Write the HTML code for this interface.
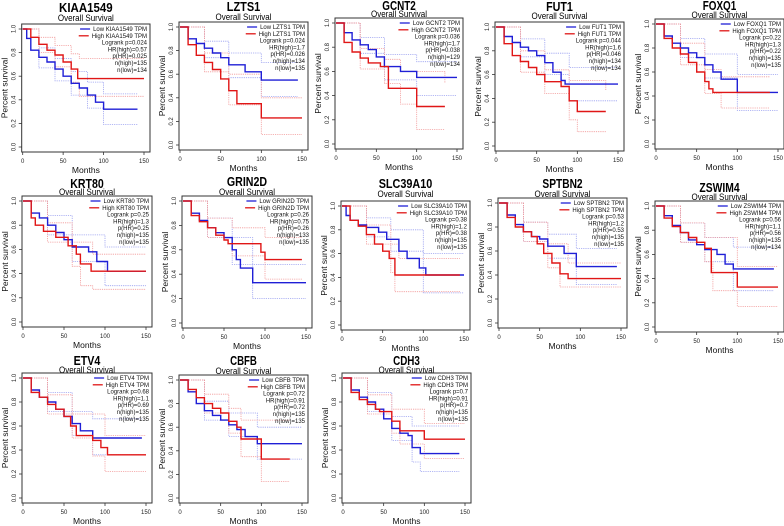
<!DOCTYPE html>
<html><head><meta charset="utf-8">
<style>
html,body{margin:0;padding:0;background:#fff;}
svg{display:block;font-family:"Liberation Sans",Arial,sans-serif;}
</style></head>
<body>
<svg id="fig" width="784" height="526" viewBox="0 0 784 526" xmlns="http://www.w3.org/2000/svg"></svg>
<script>
// ---- data: [month, survival] step points; last point = end of follow-up ----
const kiaaLow=[[5,.92],[10,.82],[20,.76],[30,.72],[40,.66],[50,.6],[60,.54],[70,.5],[80,.44],[90,.38],[100,.32],[142,.32]];
const kiaaHigh=[[10,.93],[20,.87],[30,.82],[40,.78],[50,.72],[60,.66],[68,.58],[150,.58]];
const kiaaLowUp=[[20,.84],[40,.75],[60,.64],[80,.55],[100,.45],[142,.45]];
const kiaaLowLo=[[20,.67],[40,.56],[60,.44],[80,.33],[100,.19],[142,.19]];
const kiaaHighUp=[[20,.93],[40,.86],[60,.79],[70,.75],[150,.75]];
const kiaaHighLo=[[20,.8],[40,.68],[60,.55],[70,.43],[150,.43]];

const lztsLow=[[10,.9],[20,.86],[30,.82],[40,.78],[50,.74],[60,.68],[80,.62],[100,.55],[145,.55]];
const lztsHigh=[[10,.85],[20,.76],[30,.7],[40,.64],[50,.56],[60,.46],[70,.35],[100,.23],[150,.23]];
const lztsLowUp=[[30,.88],[60,.78],[100,.7],[145,.7]];
const lztsLowLo=[[30,.74],[60,.57],[100,.41],[145,.41]];
const lztsHighUp=[[30,.78],[60,.6],[100,.4],[150,.4]];
const lztsHighLo=[[30,.62],[60,.34],[100,.09],[150,.09]];

const gcntLow=[[10,.92],[20,.86],[30,.82],[40,.78],[50,.72],[60,.64],[80,.6],[100,.55],[150,.55]];
const gcntHigh=[[10,.84],[20,.76],[30,.71],[40,.67],[55,.64],[65,.46],[100,.31],[135,.31]];
const gcntLowUp=[[30,.88],[60,.74],[100,.68],[150,.68]];
const gcntLowLo=[[30,.75],[60,.53],[100,.4],[150,.4]];
const gcntHighUp=[[30,.79],[60,.7],[80,.6],[135,.5]];
const gcntHighLo=[[30,.62],[60,.5],[80,.33],[100,.12],[135,.12]];

const futLow=[[10,.92],[20,.87],[30,.83],[40,.8],[50,.76],[60,.7],[70,.62],[80,.55],[85,.52],[150,.52]];
const futHigh=[[10,.86],[20,.76],[30,.71],[40,.66],[50,.6],[60,.54],[80,.5],[90,.38],[100,.29],[135,.29]];
const futLowUp=[[30,.9],[60,.78],[90,.66],[150,.66]];
const futLowLo=[[30,.75],[60,.6],[90,.38],[150,.38]];
const futHighUp=[[30,.8],[60,.64],[90,.55],[135,.47]];
const futHighLo=[[30,.62],[60,.44],[90,.22],[100,.12],[135,.12]];

const foxqLow=[[10,.9],[20,.84],[30,.8],[40,.76],[50,.72],[60,.66],[70,.6],[80,.54],[100,.43],[150,.43]];
const foxqHigh=[[10,.88],[20,.8],[30,.75],[40,.68],[50,.6],[60,.52],[65,.46],[70,.43],[140,.43]];
const foxqLowUp=[[30,.88],[60,.75],[100,.58],[150,.58]];
const foxqLowLo=[[30,.72],[60,.55],[100,.28],[150,.28]];
const foxqHighUp=[[30,.84],[60,.62],[80,.56],[140,.56]];
const foxqHighLo=[[30,.66],[60,.42],[80,.3],[140,.3]];

const krtLow=[[10,.9],[20,.86],[30,.8],[40,.74],[50,.68],[60,.62],[80,.58],[90,.5],[103,.42],[150,.42]];
const krtHigh=[[10,.86],[15,.8],[25,.75],[40,.7],[55,.63],[65,.56],[70,.48],[83,.42],[150,.42]];
const krtLowUp=[[30,.88],[60,.72],[100,.62],[150,.62]];
const krtLowLo=[[30,.72],[60,.5],[100,.3],[150,.3]];
const krtHighUp=[[30,.82],[60,.66],[85,.56],[150,.56]];
const krtHighLo=[[30,.66],[60,.46],[70,.3],[85,.27],[150,.27]];

const grinLow=[[10,.9],[20,.84],[30,.78],[40,.74],[50,.7],[60,.6],[65,.52],[70,.45],[85,.33],[150,.33]];
const grinHigh=[[10,.88],[20,.83],[30,.78],[40,.72],[50,.68],[55,.65],[95,.58],[100,.52],[145,.52]];
const grinLowUp=[[30,.86],[60,.7],[85,.48],[150,.48]];
const grinLowLo=[[30,.7],[60,.48],[85,.2],[150,.2]];
const grinHighUp=[[30,.86],[60,.78],[100,.7],[145,.7]];
const grinHighLo=[[30,.7],[60,.55],[100,.36],[145,.36]];

const slcLow=[[5,.92],[10,.88],[20,.84],[30,.82],[45,.78],[55,.72],[70,.62],[80,.56],[95,.48],[103,.42],[150,.42]];
const slcHigh=[[10,.88],[20,.83],[30,.76],[40,.68],[50,.62],[58,.56],[65,.42],[145,.42]];
const slcLowUp=[[30,.9],[60,.8],[100,.6],[150,.6]];
const slcLowLo=[[30,.74],[60,.62],[100,.27],[150,.27]];
const slcHighUp=[[30,.84],[60,.68],[70,.56],[145,.56]];
const slcHighLo=[[30,.68],[60,.44],[65,.28],[145,.28]];

const sptLow=[[10,.9],[20,.82],[30,.76],[40,.72],[50,.7],[60,.64],[80,.58],[95,.47],[145,.47]];
const sptHigh=[[10,.88],[20,.8],[30,.76],[40,.72],[47,.66],[55,.58],[65,.5],[75,.41],[85,.37],[150,.37]];
const sptLowUp=[[30,.84],[60,.74],[95,.62],[145,.62]];
const sptLowLo=[[30,.68],[60,.54],[95,.32],[145,.32]];
const sptHighUp=[[30,.84],[60,.66],[85,.5],[150,.5]];
const sptHighLo=[[30,.68],[60,.46],[75,.3],[150,.3]];

const zswLow=[[10,.92],[20,.84],[30,.78],[40,.72],[50,.68],[60,.64],[75,.6],[85,.52],[95,.48],[145,.48]];
const zswHigh=[[10,.9],[20,.83],[30,.78],[40,.74],[50,.7],[60,.65],[68,.45],[100,.33],[150,.33]];
const zswLowUp=[[30,.86],[60,.74],[95,.66],[145,.66]];
const zswLowLo=[[30,.7],[60,.54],[95,.3],[145,.3]];
const zswHighUp=[[30,.86],[60,.74],[100,.5],[150,.5]];
const zswHighLo=[[30,.7],[60,.54],[70,.3],[100,.17],[150,.17]];

const etvLow=[[10,.9],[20,.84],[30,.8],[40,.74],[50,.68],[60,.62],[70,.56],[85,.5],[145,.5]];
const etvHigh=[[10,.88],[20,.84],[30,.78],[40,.74],[50,.68],[58,.6],[65,.52],[85,.48],[95,.42],[103,.36],[150,.36]];
const etvLowUp=[[30,.88],[60,.72],[85,.66],[145,.66]];
const etvLowLo=[[30,.72],[60,.52],[85,.36],[145,.36]];
const etvHighUp=[[30,.86],[60,.7],[100,.52],[150,.52]];
const etvHighLo=[[30,.7],[60,.5],[85,.35],[100,.22],[150,.22]];

const cbfLow=[[10,.9],[20,.8],[30,.74],[40,.7],[50,.66],[60,.62],[70,.58],[80,.52],[95,.46],[150,.46]];
const cbfHigh=[[10,.92],[20,.85],[30,.8],[40,.76],[50,.72],[60,.65],[70,.6],[75,.5],[100,.33],[135,.33]];
const cbfLowUp=[[30,.82],[60,.72],[95,.6],[150,.6]];
const cbfLowLo=[[30,.66],[60,.52],[95,.33],[150,.33]];
const cbfHighUp=[[30,.88],[60,.76],[75,.66],[135,.66]];
const cbfHighLo=[[30,.72],[60,.55],[75,.35],[100,.14],[135,.14]];

const cdhLow=[[10,.9],[20,.84],[30,.8],[40,.74],[50,.66],[60,.58],[70,.54],[80,.52],[85,.42],[95,.37],[143,.37]];
const cdhHigh=[[10,.88],[20,.82],[30,.78],[40,.74],[45,.72],[60,.64],[70,.56],[100,.49],[150,.49]];
const cdhLowUp=[[30,.88],[60,.68],[85,.6],[143,.6]];
const cdhLowLo=[[30,.72],[60,.48],[85,.3],[95,.22],[143,.22]];
const cdhHighUp=[[30,.86],[60,.74],[100,.62],[150,.62]];
const cdhHighLo=[[30,.7],[60,.54],[70,.45],[100,.33],[150,.33]];

const geneNames=["KIAA1549","LZTS1","GCNT2","FUT1","FOXQ1","KRT80","GRIN2D","SLC39A10","SPTBN2","ZSWIM4","ETV4","CBFB","CDH3"];
const logrankP=["0.024","0.024","0.036","0.044","0.22","0.25","0.26","0.38","0.53","0.56","0.68","0.72","0.7"];
const hrHigh=["0.57","1.7","1.7","1.6","1.3","1.3","0.75","1.2","1.2","1.1","1.1","0.91","0.91"];
const pHR=["0.025","0.026","0.038","0.046","0.22","0.25","0.26","0.38","0.53","0.56","0.69","0.72","0.7"];
const nHigh=["135","134","129","134","135","135","133","135","135","135","135","135","135"];
const nLow=["134","135","134","134","135","135","135","135","135","134","135","135","135"];
const yTicks=[0,0.2,0.4,0.6,0.8,1.0];
const yTickLabels=["0.0","0.2","0.4","0.6","0.8","1.0"];
const xTicks=[0,50,100,150];

const lowSeries=[kiaaLow,lztsLow,gcntLow,futLow,foxqLow,krtLow,grinLow,slcLow,sptLow,zswLow,etvLow,cbfLow,cdhLow];
const highSeries=[kiaaHigh,lztsHigh,gcntHigh,futHigh,foxqHigh,krtHigh,grinHigh,slcHigh,sptHigh,zswHigh,etvHigh,cbfHigh,cdhHigh];
const lowCI=[[kiaaLowUp,kiaaLowLo],[lztsLowUp,lztsLowLo],[gcntLowUp,gcntLowLo],[futLowUp,futLowLo],[foxqLowUp,foxqLowLo],[krtLowUp,krtLowLo],[grinLowUp,grinLowLo],[slcLowUp,slcLowLo],[sptLowUp,sptLowLo],[zswLowUp,zswLowLo],[etvLowUp,etvLowLo],[cbfLowUp,cbfLowLo],[cdhLowUp,cdhLowLo]];
const highCI=[[kiaaHighUp,kiaaHighLo],[lztsHighUp,lztsHighLo],[gcntHighUp,gcntHighLo],[futHighUp,futHighLo],[foxqHighUp,foxqHighLo],[krtHighUp,krtHighLo],[grinHighUp,grinHighLo],[slcHighUp,slcHighLo],[sptHighUp,sptHighLo],[zswHighUp,zswHighLo],[etvHighUp,etvHighLo],[cbfHighUp,cbfHighLo],[cdhHighUp,cdhHighLo]];

// layout: x at month 0, x at month 150, y at 1.0, y at 0.0, title y, subtitle y
const layout=[[22.7,144,29,147,12,21],[180,302,27,145,11,20],[336,457,23,144,10,17],[496,618,27,146,11,19],[656,778,24,144,10,18],
[23,146,201,322,188,195],[183,306,201,323,186,195],[342,464,206,325,188,197],[499,621,203,323,188,197],[656,778,206,327,192,200],
[23,146,378,498,365,373],[180,302,380,498,365,374],[343,465,378,498,365,373]];

const NS="http://www.w3.org/2000/svg";
const svg=document.getElementById('fig');
function mk(tag,attrs,parent){const e=document.createElementNS(NS,tag);for(const k in attrs)e.setAttribute(k,attrs[k]);(parent||svg).appendChild(e);return e;}
function stepPath(pts,sx,sy){let d="M"+sx(0)+","+sy(1);for(const [m,s] of pts){d+=" H"+sx(m).toFixed(1)+" V"+sy(s).toFixed(1);}return d;}

geneNames.forEach((gene,i)=>{
  const [x0,x150,y1,y0,ty,sty]=layout[i];
  const sx=m=>x0+(x150-x0)*m/150;
  const sy=s=>y0+(y1-y0)*s;
  const bl=x0-1,br=x150+6,bt=y1-5,bb=y0+5;
  const g=mk('g',{});
  
  
  const cx=(bl+br)/2;
  const t=mk('text',{x:cx,y:ty,'text-anchor':'middle','font-size':'13','font-weight':'bold',fill:'#000',textLength:String(gene.length*6.7),lengthAdjust:'spacingAndGlyphs'},g);
  t.textContent=gene;
  
  
  const st=mk('text',{x:cx,y:sty,'text-anchor':'middle','font-size':'9.5',fill:'#000',textLength:'56',lengthAdjust:'spacingAndGlyphs'},g);
  st.textContent="Overall Survival";
  
  
  const box=mk('rect',{x:bl,y:bt,width:br-bl,height:bb-bt,fill:'none',stroke:'#333','stroke-width':'1'},g);
  
  
  yTicks.forEach((v,k)=>{
    mk('line',{x1:bl-3,x2:bl,y1:sy(v),y2:sy(v),stroke:'#333','stroke-width':'0.8'},g);
    const yl=mk('text',{x:0,y:0,'font-size':'6','text-anchor':'middle',fill:'#222',transform:`translate(${bl-6},${sy(v)}) rotate(-90)`},g);
    yl.textContent=yTickLabels[k];
    
    
  });
  xTicks.forEach(v=>{
    mk('line',{x1:sx(v),x2:sx(v),y1:bb,y2:bb+3,stroke:'#333','stroke-width':'0.8'},g);
    const xl=mk('text',{x:sx(v),y:bb+11,'font-size':'6','text-anchor':'middle',fill:'#222'},g);
    xl.textContent=String(v);
    
    
  });
  const xt=mk('text',{x:cx,y:bb+21,'font-size':'8.5','text-anchor':'middle',fill:'#111',textLength:'28',lengthAdjust:'spacingAndGlyphs'},g);
  xt.textContent="Months";
  
  
  const yt=mk('text',{x:0,y:0,'font-size':'8.5','text-anchor':'middle',fill:'#111',transform:`translate(${bl-14},${(bt+bb)/2}) rotate(-90)`},g);
  yt.textContent="Percent survival";
  
  
  [[lowCI[i],'#9aa0f0'],[highCI[i],'#f29a9a']].forEach(([pair,col])=>{
    pair.forEach(pts=>{
      const c=mk('path',{d:stepPath(pts,sx,sy),fill:'none',stroke:col,'stroke-width':'0.8','stroke-dasharray':'1.2,1'},g);
      
      
    });
  });
  const lo=mk('path',{d:stepPath(lowSeries[i],sx,sy),fill:'none',stroke:'#1f1fd6','stroke-width':'1.4'},g);
  
  
  const hi=mk('path',{d:stepPath(highSeries[i],sx,sy),fill:'none',stroke:'#e01616','stroke-width':'1.4'},g);
  
  
  const lines=["Low "+gene+" TPM","High "+gene+" TPM","Logrank p="+logrankP[i],"HR(high)="+hrHigh[i],"p(HR)="+pHR[i],"n(high)="+nHigh[i],"n(low)="+nLow[i]];
  const lg=mk('g',{},g);
  
  
  lines.forEach((s,k)=>{
    const yy=y1+2+k*6.8;
    const tx=mk('text',{x:br-3,y:yy,'font-size':'6','text-anchor':'end',fill:'#111'},lg);
    tx.textContent=s;
    
    
    if(k<2){
      const w=tx.getComputedTextLength();
      const sx0=br-3-w-3;
      mk('line',{x1:sx0-10,x2:sx0,y1:yy-2,y2:yy-2,stroke:k===0?'#1f1fd6':'#e01616','stroke-width':'1.3'},lg);
    }
  });
});
</script>
</body></html>
